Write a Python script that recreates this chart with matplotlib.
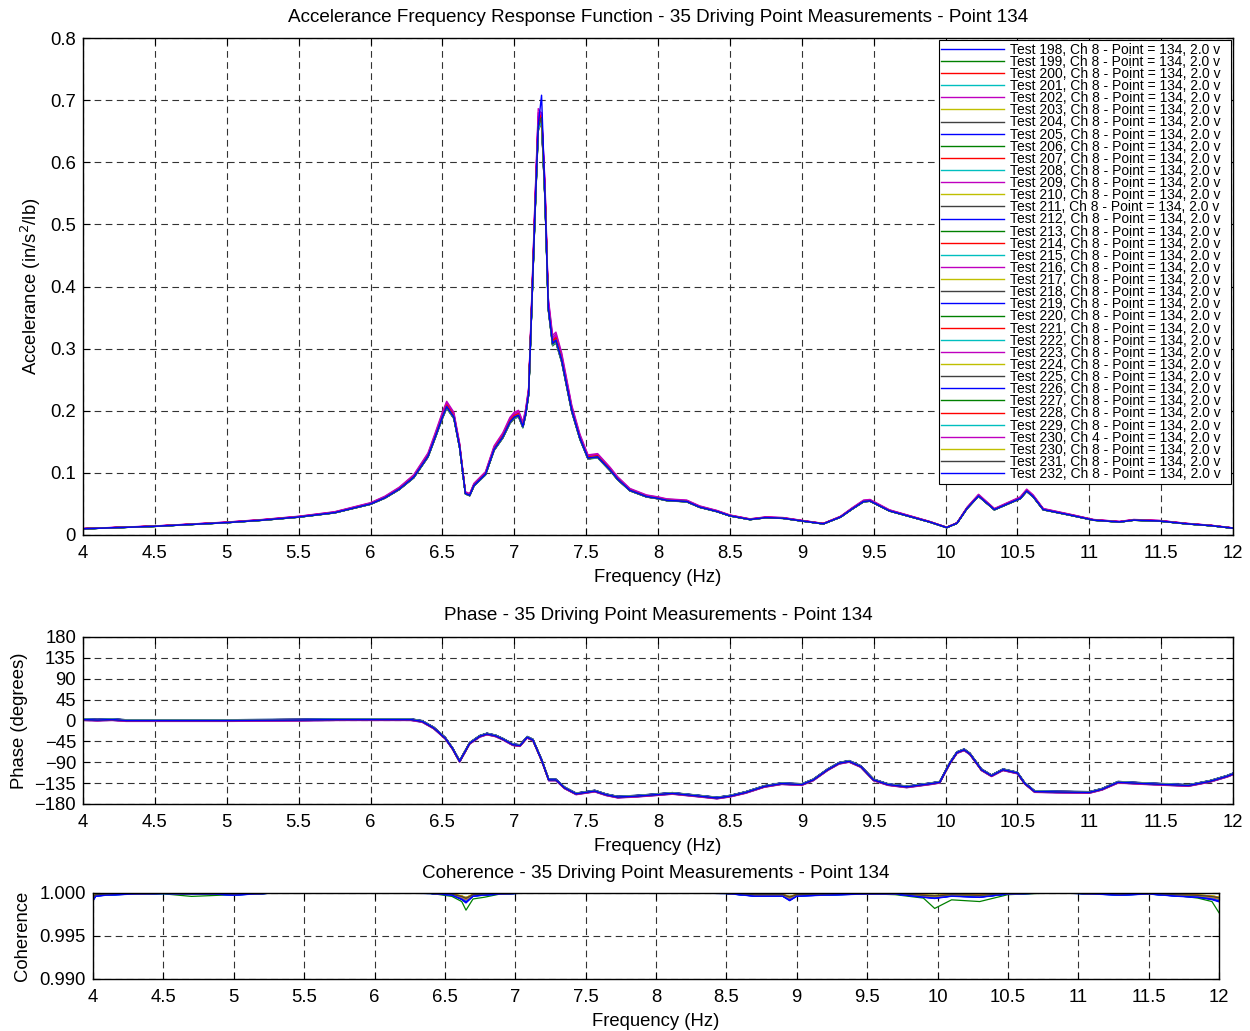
import numpy as np
import matplotlib
matplotlib.use("Agg")
import matplotlib.pyplot as plt

plt.rcParams['font.family'] = ['Liberation Sans', 'DejaVu Sans']

# ---------------- data ----------------
tests = ["Test 198, Ch 8", "Test 199, Ch 8", "Test 200, Ch 8", "Test 201, Ch 8", "Test 202, Ch 8",
         "Test 203, Ch 8", "Test 204, Ch 8", "Test 205, Ch 8", "Test 206, Ch 8", "Test 207, Ch 8",
         "Test 208, Ch 8", "Test 209, Ch 8", "Test 210, Ch 8", "Test 211, Ch 8", "Test 212, Ch 8",
         "Test 213, Ch 8", "Test 214, Ch 8", "Test 215, Ch 8", "Test 216, Ch 8", "Test 217, Ch 8",
         "Test 218, Ch 8", "Test 219, Ch 8", "Test 220, Ch 8", "Test 221, Ch 8", "Test 222, Ch 8",
         "Test 223, Ch 8", "Test 224, Ch 8", "Test 225, Ch 8", "Test 226, Ch 8", "Test 227, Ch 8",
         "Test 228, Ch 8", "Test 229, Ch 8", "Test 230, Ch 4", "Test 230, Ch 8", "Test 231, Ch 8",
         "Test 232, Ch 8"]
label_suffix = " - Point = 134, 2.0 v  "

matlab_colors = [(0, 0, 1), (0, 0.5, 0), (1, 0, 0), (0, 0.75, 0.75),
                 (0.75, 0, 0.75), (0.75, 0.75, 0), (0.25, 0.25, 0.25)]

mag_freq = [4.0, 4.25, 4.5, 4.75, 5.0, 5.25, 5.5, 5.75, 6.0, 6.1, 6.2, 6.3, 6.4, 6.45, 6.5,
            6.53, 6.58, 6.62, 6.66, 6.69, 6.72, 6.8, 6.86, 6.92, 6.97, 7.0, 7.03, 7.06, 7.08,
            7.1, 7.12, 7.144, 7.167, 7.19, 7.214, 7.237, 7.267, 7.29, 7.33, 7.4, 7.457, 7.513,
            7.58, 7.666, 7.72, 7.805, 7.92, 8.0, 8.06, 8.2, 8.29, 8.41, 8.5, 8.64, 8.75, 8.87,
            8.99, 9.15, 9.27, 9.35, 9.43, 9.475, 9.61, 9.75, 9.89, 10.008, 10.08, 10.15, 10.23,
            10.34, 10.45, 10.52, 10.565, 10.61, 10.68, 10.87, 11.03, 11.21, 11.31, 11.49, 11.68,
            11.85, 12.0]
mag_base = [0.010, 0.012, 0.014, 0.017, 0.020, 0.024, 0.029, 0.036, 0.050, 0.060, 0.074, 0.093,
            0.127, 0.158, 0.190, 0.207, 0.190, 0.142, 0.067, 0.064, 0.080, 0.098, 0.138, 0.158,
            0.182, 0.190, 0.193, 0.175, 0.196, 0.228, 0.357, 0.518, 0.660, 0.680, 0.545, 0.367,
            0.309, 0.314, 0.282, 0.201, 0.156, 0.124, 0.126, 0.105, 0.090, 0.072, 0.062, 0.059,
            0.056, 0.054, 0.045, 0.038, 0.031, 0.025, 0.028, 0.027, 0.023, 0.018, 0.029, 0.042,
            0.054, 0.055, 0.039, 0.030, 0.021, 0.012, 0.019, 0.043, 0.063, 0.041, 0.052, 0.059,
            0.071, 0.062, 0.041, 0.032, 0.024, 0.021, 0.024, 0.0225, 0.018, 0.015, 0.011]
mag_gain = [1.00, 0.99, 1.01, 0.995, 1.03, 1.005, 0.99, 1.00, 0.985, 1.01, 0.995, 1.02,
            1.00, 0.99, 1.005, 0.995, 1.01, 1.00, 1.02, 0.99, 1.00, 1.005, 0.995, 1.01,
            1.00, 0.99, 1.00, 1.005, 0.995, 1.00, 1.01, 0.99, 1.04, 1.00, 0.995, 1.00]
mag_peak = [0.672, 0.668, 0.675, 0.665, 0.680, 0.670, 0.662, 0.671, 0.666, 0.676, 0.669, 0.673,
            0.667, 0.664, 0.674, 0.668, 0.677, 0.670, 0.679, 0.663, 0.671, 0.672, 0.666, 0.675,
            0.669, 0.664, 0.670, 0.673, 0.667, 0.671, 0.676, 0.665, 0.678, 0.669, 0.672, 0.708]

ph_freq = [4.0, 4.1, 4.2, 4.3, 4.5, 5.0, 5.5, 5.8, 6.0, 6.28, 6.36, 6.44, 6.52, 6.57, 6.62, 6.69,
           6.76, 6.81, 6.87, 6.92, 6.99, 7.04, 7.09, 7.13, 7.19, 7.24, 7.29, 7.35, 7.43, 7.56,
           7.64, 7.72, 7.85, 7.98, 8.1, 8.29, 8.41, 8.5, 8.61, 8.74, 8.86, 9.0, 9.08, 9.18, 9.26,
           9.33, 9.41, 9.5, 9.6, 9.73, 9.9, 9.96, 10.03, 10.08, 10.13, 10.17, 10.25, 10.32, 10.4,
           10.5, 10.55, 10.62, 10.77, 11.0, 11.09, 11.2, 11.39, 11.69, 11.84, 11.96, 12.0]
ph_base = [2, 1, 2, 0, 0, 0, 1, 2, 2, 2, -2, -16, -38, -60, -88, -49, -34, -29, -33, -40, -52,
           -54, -36, -42, -85, -128, -128, -145, -158, -152, -160, -165, -163, -160, -157, -163,
           -167, -163, -155, -142, -136, -138, -128, -106, -92, -88, -99, -128, -138, -143, -136,
           -133, -92, -69, -63, -72, -106, -119, -106, -113, -135, -153, -154, -155, -148, -133,
           -136, -140, -131, -120, -115]
ph_offset = [0, 1, -1, 0.5, -1.5, 1, 0, -0.5, 1.5, -1, 0.5, 0, -1, 1, 0, -0.5, 1, -1.5,
             0.5, 0, 1, -1, 0.5, 0, -0.5, 1, -1, 0, 1.5, -0.5, 0, 1, -2, 0.5, -0.5, 0]

coh_freq = [4.0, 4.02, 4.1, 4.3, 4.5, 4.7, 4.85, 5.0, 5.3, 5.6, 6.0, 6.4, 6.55, 6.62, 6.65, 6.7,
            6.78, 6.9, 7.1, 7.5, 8.0, 8.5, 8.7, 8.9, 8.95, 9.0, 9.2, 9.5, 9.7, 9.9, 9.98, 10.1,
            10.3, 10.5, 10.8, 11.0, 11.3, 11.5, 11.7, 11.85, 11.95, 12.0]
coh_base = [0.9993, 0.9997, 0.9998, 0.9999, 0.99995, 0.9999, 0.9999, 0.9998, 1.0, 1.0, 1.0,
            0.99995, 0.9998, 0.9994, 0.9991, 0.9997, 0.9998, 0.9999, 1.0, 1.0, 1.0, 0.99995,
            0.9997, 0.9997, 0.9993, 0.9997, 0.9998, 0.9999, 0.9999, 0.9996, 0.9995, 0.9997,
            0.9996, 0.9999, 1.0, 0.99995, 0.9998, 0.9999, 0.9997, 0.9996, 0.9994, 0.9992]
coh_test199 = [0.9997, 0.9998, 0.9998, 0.9999, 0.9999, 0.9996, 0.9997, 0.9998, 1.0, 1.0, 1.0,
               0.99995, 0.9996, 0.9990, 0.9980, 0.9993, 0.9995, 0.9999, 1.0, 1.0, 1.0, 0.99995,
               0.9998, 0.9997, 0.9996, 0.9997, 0.9998, 0.9999, 0.9998, 0.9994, 0.9982, 0.9992,
               0.9990, 0.9998, 1.0, 0.99995, 0.9999, 0.9999, 0.9997, 0.9994, 0.9990, 0.9977]
coh_depth = [1.0, 1.0, 0.8, 1.2, 0.7, 0.9, 0.6, 1.3, 0.8, 0.9, 1.1, 0.7, 0.6, 0.8, 1.0, 0.9,
             0.7, 1.1, 0.8, 0.6, 1.0, 1.2, 0.9, 0.7, 0.8, 1.0, 0.6, 0.9, 1.1, 0.8, 0.7, 1.0,
             0.9, 0.8, 0.7, 1.2]

# ---------------- figure ----------------
fig = plt.figure(figsize=(12.5, 10.31), dpi=100)
ax1 = fig.add_axes([0.0664, 0.4811, 0.9200, 0.4820])
ax2 = fig.add_axes([0.0664, 0.2202, 0.9200, 0.1620])
ax3 = fig.add_axes([0.0744, 0.0505, 0.9008, 0.0834])

fs = 13.3
tfs = 13.6
grid_kw = dict(color='#333333', linestyle=(0, (6, 4)), linewidth=0.8)

mf = np.array(mag_freq)
mb = np.array(mag_base)
ipk = mag_freq.index(7.19)
for i, name in enumerate(tests):
    y = mb * mag_gain[i]
    y[ipk] = mag_peak[i]
    ax1.plot(mf, y, color=matlab_colors[i % 7], lw=1.0, label=name + label_suffix)

ph = np.array(ph_base, dtype=float)
for i, name in enumerate(tests):
    ax2.plot(ph_freq, ph + ph_offset[i], color=matlab_colors[i % 7], lw=1.0)

cb = np.array(coh_base)
for i, name in enumerate(tests):
    if i == 1:
        c = np.array(coh_test199)
    else:
        c = 1 - coh_depth[i] * (1 - cb)
    ax3.plot(coh_freq, c, color=matlab_colors[i % 7], lw=0.9)

for ax in (ax1, ax2, ax3):
    ax.set_xlim(4, 12)
    ax.set_xticks(np.arange(4, 12.01, 0.5))
    ax.set_xticklabels(['4', '4.5', '5', '5.5', '6', '6.5', '7', '7.5', '8', '8.5', '9',
                        '9.5', '10', '10.5', '11', '11.5', '12'])
    ax.grid(True, **grid_kw)
    ax.tick_params(direction='in', top=True, right=True, labelsize=fs, length=5, width=0.8)
    ax.tick_params(axis='x', pad=7.5)
    ax.tick_params(axis='y', pad=5)
    ax.set_xlabel('Frequency (Hz)', fontsize=fs, labelpad=5.0)
    for s in ax.spines.values():
        s.set_linewidth(1.0)

ax1.set_ylim(0, 0.8)
ax1.set_yticks(np.arange(0, 0.81, 0.1))
ax1.set_yticklabels(['0', '0.1', '0.2', '0.3', '0.4', '0.5', '0.6', '0.7', '0.8'])
ax1.set_ylabel('Accelerance (in/s$^2$/lb)', fontsize=fs)
ax1.yaxis.set_label_coords(-0.0348, 0.5)
ax1.set_title('Accelerance Frequency Response Function - 35 Driving Point Measurements - Point 134',
              fontsize=tfs, pad=11.5)

ax2.set_ylim(-180, 180)
ax2.set_yticks(np.arange(-180, 181, 45))
ax2.set_ylabel('Phase (degrees)', fontsize=fs)
ax2.yaxis.set_label_coords(-0.0478, 0.5)
ax2.set_title('Phase - 35 Driving Point Measurements - Point 134', fontsize=tfs, pad=12.5)

ax3.set_ylim(0.99, 1.0)
ax3.set_yticks([0.99, 0.995, 1.0])
ax3.set_yticklabels(['0.990', '0.995', '1.000'])
ax3.set_ylabel('Coherence', fontsize=fs)
ax3.yaxis.set_label_coords(-0.055, 0.5)
ax3.set_title('Coherence - 35 Driving Point Measurements - Point 134', fontsize=tfs, pad=10.5)

leg = ax1.legend(loc='upper right', fontsize=10.0, labelspacing=-0.135, handlelength=4.5,
                 handletextpad=0.45, borderpad=0.18, borderaxespad=0.15, frameon=True,
                 fancybox=False, edgecolor='black', framealpha=1.0)
leg.get_frame().set_linewidth(0.8)

fig.savefig('out.png', dpi=100)
